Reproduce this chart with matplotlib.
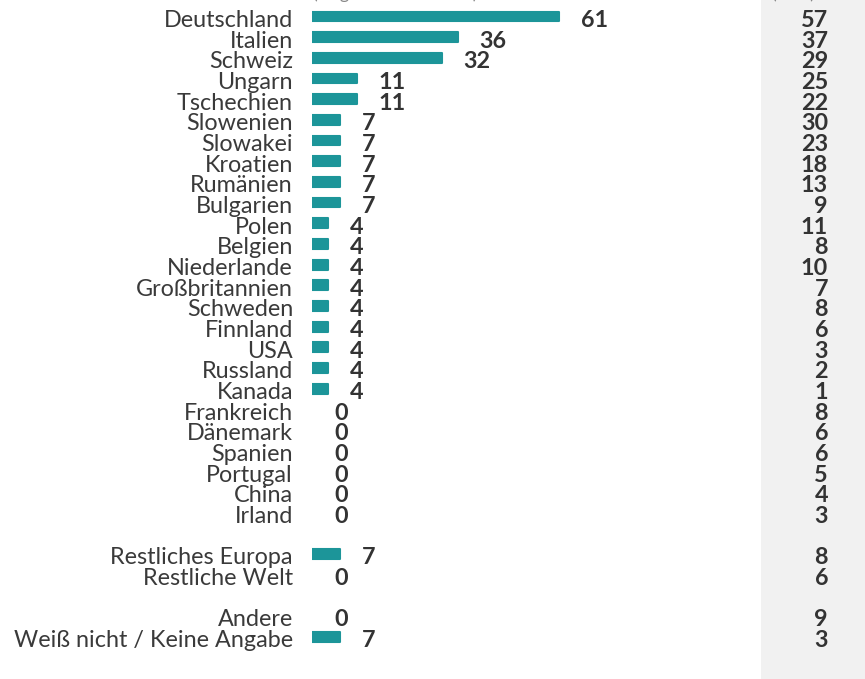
import numpy as np
from matplotlib import pyplot as plt
from matplotlib.patches import Rectangle
from matplotlib import transforms

plt.rcParams['font.family'] = ['Lato', 'DejaVu Sans']

countries = [
        'Deutschland', 'Italien', 'Schweiz', 'Ungarn', 'Tschechien',
        'Slowenien', 'Slowakei', 'Kroatien', 'Rumänien', 'Bulgarien',
        'Polen', 'Belgien', 'Niederlande', 'Großbritannien', 'Schweden',
        'Finnland', 'USA', 'Russland', 'Kanada', 'Frankreich',
        'Dänemark', 'Spanien', 'Portugal', 'China', 'Irland',
        ]
share = [61, 36, 32, 11, 11, 7, 7, 7, 7, 7, 4, 4, 4, 4, 4, 4, 4, 4, 4,
         0, 0, 0, 0, 0, 0]
compare = [57, 37, 29, 25, 22, 30, 23, 18, 13, 9, 11, 8, 10, 7, 8, 6, 3, 2, 1,
           8, 6, 6, 5, 4, 3]

rest_labels = ['Restliches Europa', 'Restliche Welt']
rest_share = [7, 0]
rest_compare = [8, 6]

other_labels = ['Andere', 'Weiß nicht / Keine Angabe']
other_share = [0, 7]
other_compare = [9, 3]

labels = countries + rest_labels + other_labels
values = share + rest_share + other_share
values2 = compare + rest_compare + other_compare
# blank row between the blocks
rows = list(range(25)) + [26, 27] + [29, 30]

W, H = 865, 679
row_px = 20.67
top_px = 16.5
x0_px = 312
px_per_unit = 4.05

teal = '#1c9599'
txt = '#3a3a3a'
fs = 16.8

fig = plt.figure(figsize=(W / 100, H / 100), dpi=100)
fig.add_artist(Rectangle((761 / W, 0), 1 - 761 / W, 1, transform=fig.transFigure,
                         facecolor='#f1f1f1', edgecolor='none', zorder=0))

ax = fig.add_axes([x0_px / W, 0, 1 - x0_px / W, 1])
ax.set_xlim(0, (W - x0_px) / px_per_unit)
ax.set_ylim((H - top_px) / row_px, -top_px / row_px)
ax.axis('off')
ax.patch.set_alpha(0)

lw = [1.5 if v > 0 else 0 for v in values]
ax.barh(rows, values, height=0.48, color=teal, edgecolor=teal,
        linewidth=lw, joinstyle='round')

base_dy = -10.4 * 0.72
for r, lab, v in zip(rows, labels, values):
    ax.annotate(lab, (0, r), xytext=(-13.7, base_dy), textcoords='offset points',
                ha='right', va='baseline', fontsize=fs, color=txt)
    ax.annotate(f'{v}', (v, r), xytext=(15.8, base_dy), textcoords='offset points',
                ha='left', va='baseline', fontsize=fs, fontweight='bold',
                color='#333333')

trans = transforms.blended_transform_factory(fig.transFigure, ax.transData)
for r, v in zip(rows, values2):
    ax.annotate(f'{v}', (828 / W, r), xycoords=trans, xytext=(0, base_dy),
                textcoords='offset points', ha='right', va='baseline',
                fontsize=fs, fontweight='bold', color='#333333')

# column headers, sitting just above the top edge
fig.text(313 / W, 1 + 1.0 / H, '(Angaben in Prozent)', ha='left', va='baseline',
         fontsize=13, color='#888888')
fig.text(772 / W, 1 + 1.0 / H, '(in %)', ha='left', va='baseline',
         fontsize=13, color='#888888')

fig.savefig('out.png', dpi=100)
